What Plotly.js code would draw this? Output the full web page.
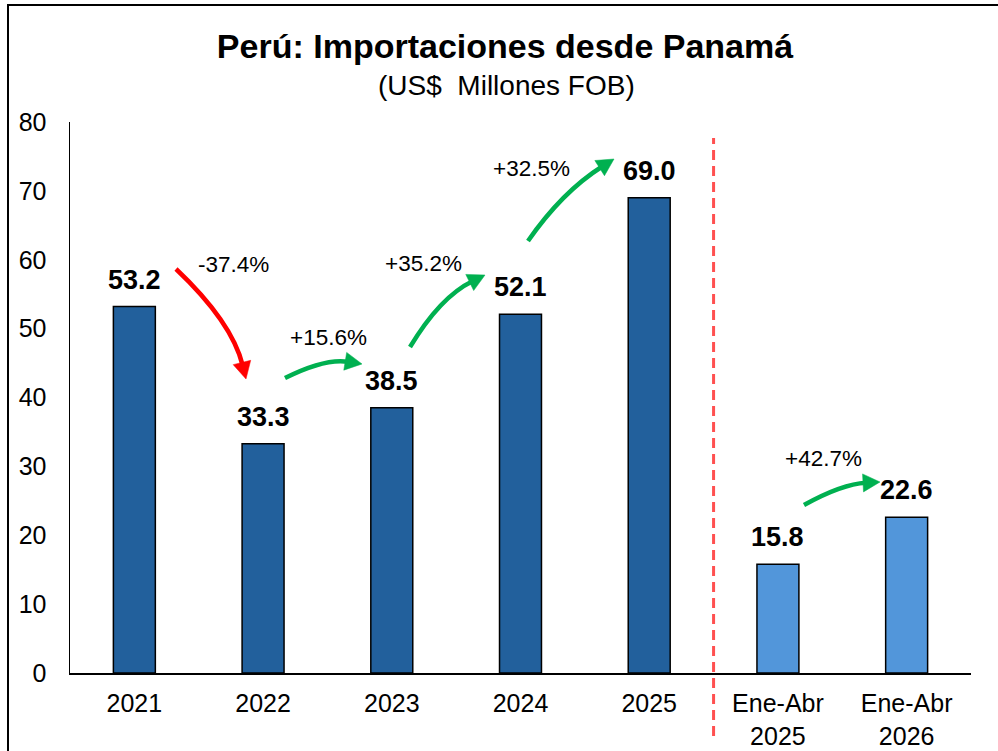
<!DOCTYPE html>
<html>
<head>
<meta charset="utf-8">
<script src="https://cdn.plot.ly/plotly-3.0.1.min.js"></script>
<style>html,body{margin:0;padding:0;background:#fff;}#chart{width:998px;height:751px;}</style>
</head>
<body>
<div id="chart"></div>
<script>
// ---- data ----
const categories = ['2021', '2022', '2023', '2024', '2025', 'Ene-Abr<br>2025', 'Ene-Abr<br>2026'];
const values = [53.2, 33.3, 38.5, 52.1, 69.0, 15.8, 22.6];
const changeLabels = ['-37.4%', '+15.6%', '+35.2%', '+32.5%', '+42.7%'];
const yTicks = [0, 10, 20, 30, 40, 50, 60, 70, 80];

// ---- styles / layout ----
const FONT = 'Liberation Sans, Arial, sans-serif';
const DARK = '#22609C', LIGHT = '#5296DA';
const barColors = categories.map((c, i) => i < 5 ? DARK : LIGHT);
const L = 70, T = 122, W = 901, H = 551, R = 998 - L - W, B = 751 - T - H;
const YMAX = 80, N = categories.length;
const toX = px => (px - L) / (W / N) - 0.5;
const toY = py => (T + H - py) / H * YMAX;

// arrow geometry (pixel positions of decorations)
const arrows = [
  {s: [176, 269], c: [232, 322], t: [246, 379], col: '#FF0000', lab: [233, 264]},
  {s: [285, 378], c: [325, 358], t: [362, 364], col: '#00B050', lab: [328, 337]},
  {s: [410, 347], c: [440, 297], t: [485, 275], col: '#00B050', lab: [423, 263]},
  {s: [528, 241], c: [562, 192], t: [614, 159], col: '#00B050', lab: [531, 168]},
  {s: [804, 505], c: [842, 484], t: [880, 482], col: '#00B050', lab: [823, 458]}
];

const shapes = [];
const annotations = [];

arrows.forEach((a, i) => {
  const dx = a.t[0] - a.c[0], dy = a.t[1] - a.c[1];
  const len = Math.hypot(dx, dy);
  const ux = dx / len, uy = dy / len;
  const HL = 17, HW = 9;
  const bx = a.t[0] - ux * HL, by = a.t[1] - uy * HL;
  const ex = a.t[0] - ux * (HL - 3), ey = a.t[1] - uy * (HL - 3);
  const p1 = [bx - uy * HW, by + ux * HW], p2 = [bx + uy * HW, by - ux * HW];
  shapes.push({
    type: 'path', xref: 'x', yref: 'y',
    path: `M ${toX(a.s[0])},${toY(a.s[1])} Q ${toX(a.c[0])},${toY(a.c[1])} ${toX(ex)},${toY(ey)}`,
    line: {color: a.col, width: 4.5}, layer: 'above'
  });
  shapes.push({
    type: 'path', xref: 'x', yref: 'y',
    path: `M ${toX(a.t[0])},${toY(a.t[1])} L ${toX(p1[0])},${toY(p1[1])} L ${toX(p2[0])},${toY(p2[1])} Z`,
    fillcolor: a.col, line: {color: a.col, width: 0.5}, layer: 'above'
  });
  annotations.push({
    x: toX(a.lab[0]), y: toY(a.lab[1]), xref: 'x', yref: 'y',
    text: changeLabels[i], showarrow: false,
    font: {family: FONT, size: 22.5, color: '#000'}
  });
});

// value labels
values.forEach((v, i) => {
  annotations.push({
    x: i, y: v, xref: 'x', yref: 'y', yanchor: 'middle', yshift: 27,
    text: '<b>' + v.toFixed(1) + '</b>', showarrow: false,
    font: {family: FONT, size: 27, color: '#000'}
  });
});

// subtitle
annotations.push({
  xref: 'paper', yref: 'paper', x: (506 - L) / W, y: (T + H - 85) / H,
  xanchor: 'center', yanchor: 'middle', showarrow: false,
  text: '(US$\u00a0 Millones FOB)', font: {family: FONT, size: 28, color: '#000'}
});

// separator dashed line
shapes.push({
  type: 'line', xref: 'x', yref: 'paper', x0: 4.5, x1: 4.5,
  y0: (T + H - 736) / H, y1: (T + H - 138) / H,
  line: {color: '#FF5050', width: 3, dash: '10px,6px'}
});
// outer frame
shapes.push({
  type: 'rect', xref: 'paper', yref: 'paper',
  x0: (8 - L) / W, x1: 1.3, y0: -0.4, y1: (T + H - 5) / H,
  line: {color: '#000', width: 2}, fillcolor: 'rgba(0,0,0,0)'
});

const trace = {
  type: 'bar', x: categories, y: values,
  marker: {color: barColors, line: {color: '#000', width: 1.5}},
  hoverinfo: 'skip'
};

const layout = {
  width: 998, height: 751,
  margin: {l: L, r: R, t: T, b: B, pad: 0},
  paper_bgcolor: '#fff', plot_bgcolor: '#fff',
  font: {family: FONT, color: '#000'},
  showlegend: false,
  bargap: 0.674,
  title: {
    text: '<b>Perú: Importaciones desde Panamá</b>',
    x: 505 / 998, xanchor: 'center', xref: 'container',
    y: 1 - 46 / 751, yanchor: 'middle', yref: 'container',
    font: {family: FONT, size: 34, color: '#000'}
  },
  xaxis: {
    type: 'category', range: [-0.5, 6.5], showgrid: false, zeroline: false,
    showline: true, linecolor: '#000', linewidth: 2,
    ticks: '', tickfont: {family: FONT, size: 25, color: '#000'},
    ticklabelstandoff: 7
  },
  yaxis: {
    range: [0, YMAX], tickvals: yTicks, showgrid: false, zeroline: false,
    showline: true, linecolor: '#000', linewidth: 1.5,
    ticks: '', tickfont: {family: FONT, size: 25, color: '#000'},
    ticklabelstandoff: 17
  },
  shapes: shapes,
  annotations: annotations
};

Plotly.newPlot('chart', [trace], layout, {displayModeBar: false, staticPlot: true});
</script>
</body>
</html>
